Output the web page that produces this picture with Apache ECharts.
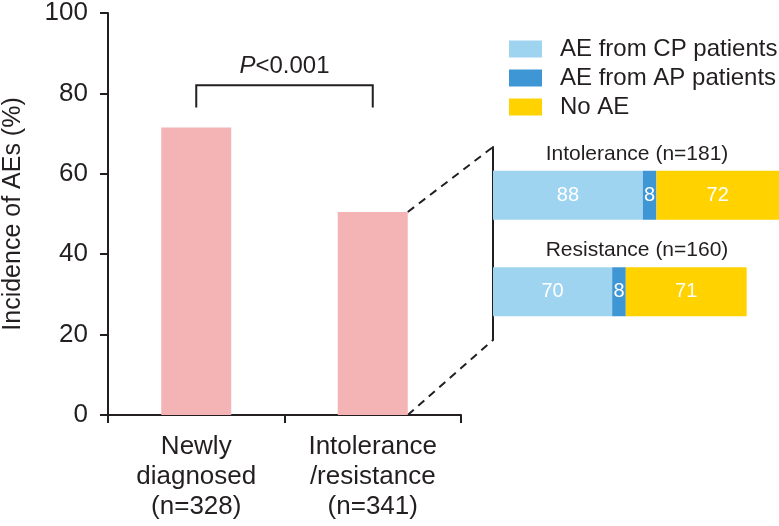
<!DOCTYPE html>
<html>
<head>
<meta charset="utf-8">
<script src="https://cdn.jsdelivr.net/npm/echarts@6/dist/echarts.min.js"></script>
<style>
  html, body { margin: 0; padding: 0; background: #fff; }
  #main { width: 779px; height: 526px; }
</style>
</head>
<body>
<div id="main"></div>
<script>
// 左图：不良事件发生率
var groups = ["Newly\ndiagnosed\n(n=328)", "Intolerance\n/resistance\n(n=341)"];
var incidence = [71.5, 50.5];
var yTicks = [0, 20, 40, 60, 80, 100];

// 右图：堆叠条
var subgroups = ["Intolerance (n=181)", "Resistance (n=160)"];
var aeCP = [88, 70];
var aeAP = [8, 8];
var noAE = [72, 71];
var stackNames = ["AE from CP patients", "AE from AP patients", "No AE"];

var ink = "#231f20";
var font = "Arial, 'Liberation Sans', Helvetica, sans-serif";

var myChart = echarts.init(document.getElementById("main"));

var stackLabel = {
  show: true,
  color: "#fff",
  fontSize: 20,
  fontFamily: font
};

myChart.setOption({
  animation: false,
  textStyle: { fontFamily: font, color: ink },
  legend: {
    orient: "vertical",
    left: 504,
    top: 32,
    itemWidth: 33,
    itemHeight: 17,
    itemGap: 5,
    icon: "rect",
    selectedMode: false,
    data: stackNames,
    textStyle: { fontSize: 24, lineHeight: 22, color: ink, padding: [0, 0, 0, 13] }
  },
  grid: [
    { left: 107, right: 318, top: 10, bottom: 111, containLabel: false },
    { left: 493, width: 288, top: 147, height: 193, containLabel: false }
  ],
  xAxis: [
    {
      type: "category",
      gridIndex: 0,
      data: groups,
      axisLine: { lineStyle: { color: ink, width: 2 } },
      axisTick: { show: true, length: 8, lineStyle: { color: ink, width: 2 } },
      axisLabel: { fontSize: 26, color: ink, lineHeight: 30, margin: 17, interval: 0 }
    },
    {
      type: "value",
      gridIndex: 1,
      min: 0,
      max: 168,
      show: false
    }
  ],
  yAxis: [
    {
      type: "value",
      gridIndex: 0,
      min: 0,
      max: 100,
      interval: 20,
      name: "Incidence of AEs (%)",
      nameLocation: "middle",
      nameGap: 82,
      nameTextStyle: { fontSize: 25, color: ink },
      axisLine: { show: true, lineStyle: { color: ink, width: 2 } },
      axisTick: { show: true, length: 8, lineStyle: { color: ink, width: 2 } },
      axisLabel: {
        fontSize: 26, color: ink, margin: 20,
        formatter: function (v) { return yTicks.indexOf(v) >= 0 ? v : ""; }
      },
      splitLine: { show: false }
    },
    {
      type: "category",
      gridIndex: 1,
      data: subgroups,
      inverse: true,
      axisLine: { show: true, lineStyle: { color: ink, width: 2 } },
      axisTick: { show: false },
      axisLabel: { show: false }
    }
  ],
  series: [
    {
      name: "Incidence",
      type: "bar",
      xAxisIndex: 0,
      yAxisIndex: 0,
      barWidth: 70,
      itemStyle: { color: "#f4b3b5" },
      data: incidence
    },
    {
      name: stackNames[0],
      type: "bar",
      stack: "ae",
      xAxisIndex: 1,
      yAxisIndex: 1,
      barWidth: 49,
      itemStyle: { color: "#9fd4f1" },
      label: stackLabel,
      data: aeCP
    },
    {
      name: stackNames[1],
      type: "bar",
      stack: "ae",
      xAxisIndex: 1,
      yAxisIndex: 1,
      barWidth: 49,
      itemStyle: { color: "#3f96d4" },
      label: stackLabel,
      data: aeAP
    },
    {
      name: stackNames[2],
      type: "bar",
      stack: "ae",
      xAxisIndex: 1,
      yAxisIndex: 1,
      barWidth: 49,
      itemStyle: { color: "#ffd200" },
      label: stackLabel,
      data: noAE
    }
  ]
});

// 辅助线：括号、虚线、子组标题
function px(gridIdx, x, y) {
  return myChart.convertToPixel({ xAxisIndex: gridIdx, yAxisIndex: gridIdx }, [x, y]);
}
var p1 = px(0, groups[0], 82);
var p2 = px(0, groups[1], 82);
var legY = px(0, groups[0], 76.5)[1];
var bar2Top = px(0, groups[1], incidence[1]);
var bar2Base = px(0, groups[1], 0);
var barHalf = 35;
var axTop = 147, axBot = 340, axX = 493;

var dash = { stroke: ink, lineWidth: 2, lineDash: [8, 6] };
var graphics = [
  {
    type: "polyline",
    shape: { points: [[p1[0], legY], [p1[0], p1[1]], [p2[0], p2[1]], [p2[0], legY]] },
    style: { stroke: ink, lineWidth: 2, fill: null }
  },
  {
    type: "text",
    x: (p1[0] + p2[0]) / 2,
    y: p1[1] - 7,
    style: {
      rich: { i: { fontStyle: "italic", fontSize: 24, fontFamily: font, fill: ink }, n: { fontSize: 24, fontFamily: font, fill: ink } },
      text: "{i|P}{n|<0.001}",
      align: "center",
      verticalAlign: "bottom"
    }
  },
  {
    type: "line",
    shape: { x1: bar2Top[0] + barHalf, y1: bar2Top[1], x2: axX, y2: axTop },
    style: dash
  },
  {
    type: "line",
    shape: { x1: bar2Base[0] + barHalf, y1: bar2Base[1], x2: axX, y2: axBot },
    style: dash
  }
];
subgroups.forEach(function (name, i) {
  var c = myChart.convertToPixel({ yAxisIndex: 1 }, name);
  graphics.push({
    type: "text",
    x: 637,
    y: c - 31,
    style: { text: name, fontSize: 21, fontFamily: font, fill: ink, align: "center", verticalAlign: "bottom" }
  });
});
myChart.setOption({ graphic: graphics });
</script>
</body>
</html>
